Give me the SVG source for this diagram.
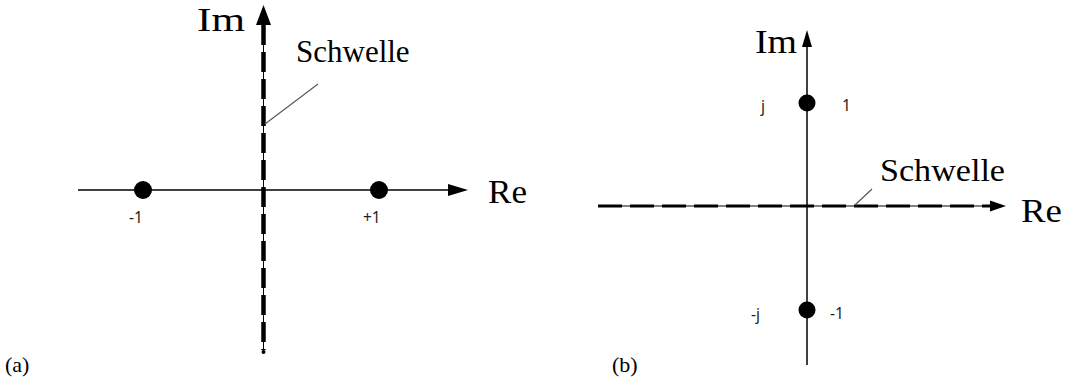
<svg xmlns="http://www.w3.org/2000/svg" width="1072" height="383" viewBox="0 0 1072 383">
<style>
.serif{font-family:"Liberation Serif","Times New Roman",serif;fill:#000}
.big{font-size:33px}
.mid{font-size:31px}
.cap{font-size:22px}
.small{font-family:"Noto Sans","Liberation Sans",sans-serif;font-size:15.5px;fill:#1e1e1e}
.thin{stroke:#000;stroke-width:1.5;fill:none}
.leader{stroke:#555;stroke-width:1.1;fill:none}
.dot{fill:#000}
</style>
<rect width="1072" height="383" fill="#fff"/>
<g id="panel-a">
  <g id="a-axes">
    <line class="thin" x1="78" y1="190" x2="450" y2="190"/>
    <polygon points="448,184 468,190 448,196" fill="#000"/>
    <line x1="263.5" y1="24" x2="263.5" y2="352" stroke="#000" stroke-width="1"/>
    <line x1="263.5" y1="25" x2="263.5" y2="350" stroke="#000" stroke-width="4.5" stroke-dasharray="20 7"/>
    <circle cx="263.5" cy="352" r="2" fill="#000"/>
    <polygon points="256,25 263.5,5 271,25" fill="#000"/>
  </g>
  <g id="a-points">
    <circle class="dot" cx="143" cy="190" r="9"/>
    <circle class="dot" cx="379" cy="190" r="9"/>
  </g>
  <g id="a-leader">
    <line class="leader" x1="318" y1="84" x2="265" y2="124"/>
  </g>
  <g id="a-labels">
    <text class="serif big" x="197" y="31" textLength="48" lengthAdjust="spacingAndGlyphs">Im</text>
    <text class="serif mid" x="296" y="62">Schwelle</text>
    <text class="serif big" x="488" y="203" textLength="39" lengthAdjust="spacingAndGlyphs">Re</text>
    <text class="small" x="129" y="223">-1</text>
    <text class="small" x="363" y="223">+1</text>
    <text class="serif cap" x="5" y="372">(a)</text>
  </g>
</g>
<g id="panel-b">
  <g id="b-axes">
    <line class="thin" x1="807" y1="40" x2="807" y2="365"/>
    <polygon points="802,47 807,30 812,47" fill="#000"/>
    <line x1="598" y1="206" x2="995" y2="206" stroke="#000" stroke-width="1"/>
    <line x1="598" y1="206" x2="991" y2="206" stroke="#000" stroke-width="3" stroke-dasharray="24 8"/>
    <polygon points="990,200.5 1006,206 990,211.5" fill="#000"/>
  </g>
  <g id="b-points">
    <circle class="dot" cx="807" cy="103" r="8.5"/>
    <circle class="dot" cx="807" cy="310" r="8.5"/>
  </g>
  <g id="b-leader">
    <line class="leader" x1="872" y1="189" x2="855" y2="205"/>
  </g>
  <g id="b-labels">
    <text class="serif big" x="755" y="53" textLength="42" lengthAdjust="spacingAndGlyphs">Im</text>
    <text class="serif mid" x="880" y="181" textLength="125" lengthAdjust="spacingAndGlyphs">Schwelle</text>
    <text class="serif big" x="1021" y="222" textLength="41" lengthAdjust="spacingAndGlyphs">Re</text>
    <text class="small" x="761" y="112">j</text>
    <text class="small" x="842" y="111">1</text>
    <text class="small" x="751" y="320">-j</text>
    <text class="small" x="830" y="319">-1</text>
    <text class="serif cap" x="612" y="372">(b)</text>
  </g>
</g>
</svg>
